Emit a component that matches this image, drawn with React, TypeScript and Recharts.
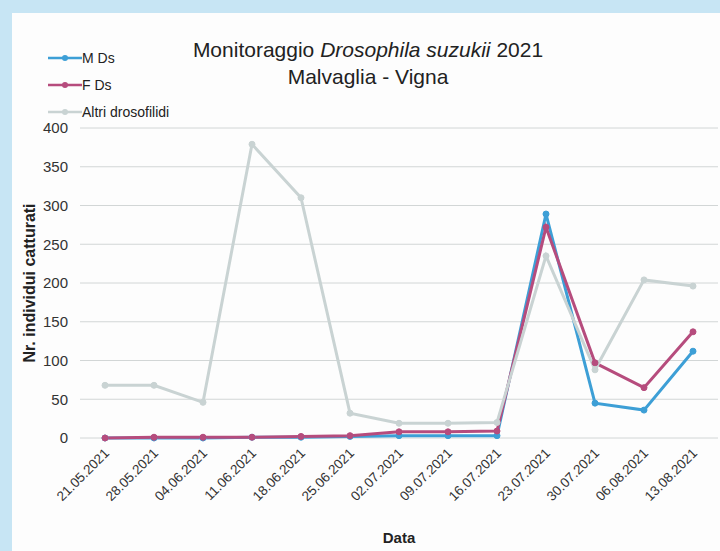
import { LineChart, Line, XAxis, YAxis, CartesianGrid, Label } from "recharts"

const dates = [
  "21.05.2021", "28.05.2021", "04.06.2021", "11.06.2021", "18.06.2021", "25.06.2021",
  "02.07.2021", "09.07.2021", "16.07.2021", "23.07.2021", "30.07.2021", "06.08.2021", "13.08.2021",
]
const maschi = [0, 0, 0, 1, 1, 2, 3, 3, 3, 289, 45, 36, 112]
const femmine = [0, 1, 1, 1, 2, 3, 8, 8, 9, 272, 97, 65, 137]
const altri = [68, 68, 46, 379, 310, 32, 19, 19, 20, 235, 88, 204, 196]
const yTicks = [0, 50, 100, 150, 200, 250, 300, 350, 400]

const data = dates.map((d, i) => ({
  date: d,
  m: maschi[i],
  f: femmine[i],
  a: altri[i],
}))

const series = [
  { key: "m", name: "M Ds", color: "#3d9fd6" },
  { key: "f", name: "F Ds", color: "#b64c7d" },
  { key: "a", name: "Altri drosofilidi", color: "#c9d3d3" },
]

const font = "'Liberation Sans', Arial, sans-serif"

function DateTick(props: any) {
  const { x, y, payload } = props
  return (
    <text
      x={x + 5}
      y={y + 8}
      transform={`rotate(-45, ${x + 5}, ${y + 8})`}
      textAnchor="end"
      fontSize={13.5}
      fill="#333"
      fontFamily={font}
    >
      {payload.value}
    </text>
  )
}

export default function App() {
  return (
    <div style={{ position: "absolute", left: 0, top: 0, width: 720, height: 551, background: "#c7e5f4", fontFamily: font }}>
      <div style={{ position: "absolute", left: 12, top: 13, width: 708, height: 538, background: "#fdfdfd" }} />
      <div style={{ position: "absolute", left: 0, top: 36, width: 736, textAlign: "center", fontSize: 21, color: "#222", lineHeight: "27px" }}>
        Monitoraggio <i>Drosophila suzukii</i> 2021
        <br />
        Malvaglia - Vigna
      </div>
      <div style={{ position: "absolute", left: 48, top: 44 }}>
        {series.map((s) => (
          <div key={s.key} style={{ display: "flex", alignItems: "center", height: 27, fontSize: 14, color: "#222" }}>
            <svg width={34} height={10}>
              <line x1={0} y1={5} x2={34} y2={5} stroke={s.color} strokeWidth={2.5} />
              <circle cx={17} cy={5} r={3} fill={s.color} />
            </svg>
            <span>{s.name}</span>
          </div>
        ))}
      </div>
      <div style={{ position: "absolute", left: 0, top: 0 }}>
        <LineChart width={720} height={551} data={data} margin={{ top: 128, right: 2, bottom: 0, left: 0 }}>
          <CartesianGrid vertical={false} stroke="#d2d6d6" />
          <XAxis
            dataKey="date"
            axisLine={false}
            tickLine={false}
            interval={0}
            padding={{ left: 25, right: 25 }}
            tick={<DateTick />}
            height={113}
          >
            <Label value="Data" position="insideBottom" offset={8} fontWeight="bold" fontSize={15} fill="#222" fontFamily={font} />
          </XAxis>
          <YAxis
            width={80}
            domain={[0, 400]}
            ticks={yTicks}
            axisLine={false}
            tickLine={false}
            tickSize={6}
            tickMargin={6}
            tick={{ fontSize: 15, fill: "#333", fontFamily: font }}
          >
            <Label
              value="Nr. individui catturati"
              angle={-90}
              position="insideLeft"
              dx={24}
              style={{ textAnchor: "middle" }}
              fontWeight="bold"
              fontSize={16}
              fill="#222"
              fontFamily={font}
            />
          </YAxis>
          {series.map((s) => (
            <Line
              key={s.key}
              dataKey={s.key}
              name={s.name}
              stroke={s.color}
              strokeWidth={3}
              dot={{ r: 3, fill: s.color, stroke: s.color, strokeWidth: 1 }}
              isAnimationActive={false}
            />
          ))}
        </LineChart>
      </div>
    </div>
  )
}
